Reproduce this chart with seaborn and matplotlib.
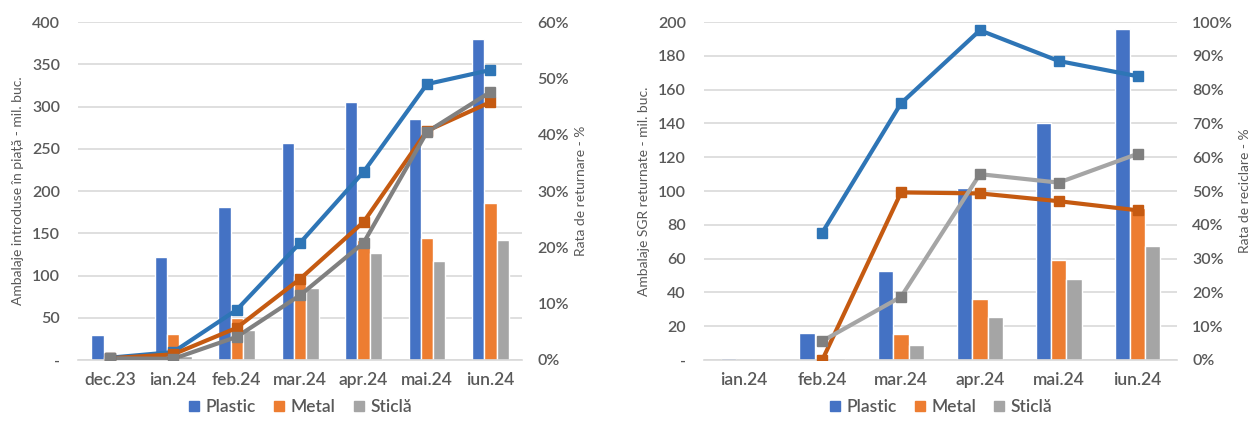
import numpy as np
import pandas as pd
import matplotlib
matplotlib.use("Agg")
import matplotlib.pyplot as plt
from matplotlib.ticker import FuncFormatter, FixedLocator, PercentFormatter
from matplotlib.lines import Line2D
import seaborn as sns

sns.set_theme(style="white")
plt.rcParams["font.family"] = ["Lato", "DejaVu Sans"]

materials = ["Plastic", "Metal", "Sticlă"]

# Packaging placed on the market (million units) and return rate
months_market = ["dec.23", "ian.24", "feb.24", "mar.24", "apr.24", "mai.24", "iun.24"]
market_plastic = [30, 122, 181, 257, 305, 285, 380]
market_metal = [3, 31, 50, 100, 142, 145, 186]
market_sticla = [1, 5, 35, 85, 127, 117, 142]
return_plastic = [0.004, 0.014, 0.089, 0.208, 0.334, 0.49, 0.515]
return_metal = [0.003, 0.010, 0.057, 0.144, 0.245, 0.407, 0.458]
return_sticla = [0.003, 0.002, 0.041, 0.115, 0.208, 0.405, 0.476]

# SGR packaging returned (million units) and recycling rate
months_sgr = ["ian.24", "feb.24", "mar.24", "apr.24", "mai.24", "iun.24"]
sgr_plastic = [1, 16, 52.5, 102, 140, 196]
sgr_metal = [0, 0.5, 15.5, 36, 59, 90]
sgr_sticla = [0, 1, 9, 25.5, 48, 67.5]
recycle_plastic = [np.nan, 0.377, 0.76, 0.976, 0.885, 0.84]
recycle_metal = [np.nan, 0.0, 0.496, 0.493, 0.47, 0.443]
recycle_sticla = [np.nan, 0.056, 0.187, 0.55, 0.525, 0.61]

bar_colors = ["#4472C4", "#ED7D31", "#A5A5A5"]
text_color = "#595959"
grid_color = "#D9D9D9"


def dash_zero(v, _):
    return "-" if abs(v) < 1e-9 else f"{v:.0f}"


def draw_panel(fig, rect, months, bars, rates, ymax, ystep, rmax,
               left_label, right_label, line_colors, marker_colors):
    ax = fig.add_axes(rect)
    df = pd.DataFrame({
        "luna": np.repeat(months, len(materials)),
        "material": materials * len(months),
        "valoare": np.column_stack(bars).ravel(),
    })
    sns.barplot(data=df, x="luna", y="valoare", hue="material", order=months,
                hue_order=materials, palette=bar_colors, width=0.58,
                saturation=1, ax=ax, legend=False, zorder=2)
    ax.set_xlim(-0.5, len(months) - 0.5)
    ax.set_ylim(0, ymax)
    ax.yaxis.set_major_locator(FixedLocator(np.arange(0, ymax + 1, ystep)))
    ax.yaxis.set_major_formatter(FuncFormatter(dash_zero))
    ax.grid(axis="y", color=grid_color, linewidth=1.2, zorder=0)
    ax.set_axisbelow(True)
    for s in ["top", "right", "left"]:
        ax.spines[s].set_visible(False)
    ax.spines["bottom"].set_color(grid_color)
    ax.spines["bottom"].set_linewidth(1.2)
    ax.set_xlabel("")
    ax.set_ylabel(left_label, fontsize=10, color=text_color, labelpad=6)
    ax.tick_params(axis="y", length=0, labelsize=11.5, labelcolor=text_color, pad=13)
    ax.tick_params(axis="x", which="major", length=0, labelsize=12.5,
                   labelcolor=text_color, pad=9)
    ax.set_xticks(np.arange(-0.5, len(months), 1.0), minor=True)
    ax.tick_params(axis="x", which="minor", length=5, color=grid_color, width=1.2)
    for lab in ax.get_xticklabels() + ax.get_yticklabels():
        lab.set_fontweight("semibold")

    ax2 = ax.twinx()
    xpos = np.arange(len(months))
    for vals, lc, mc in zip(rates, line_colors, marker_colors):
        sns.lineplot(x=xpos, y=vals, color=lc, linewidth=3, ax=ax2, zorder=3)
        ax2.plot(xpos, vals, linestyle="none", marker="s", markersize=7.5,
                 markerfacecolor=mc, markeredgecolor=mc, zorder=4)
    ax2.set_ylim(0, rmax)
    ax2.set_xlim(-0.5, len(months) - 0.5)
    ax2.yaxis.set_major_locator(FixedLocator(np.arange(0, rmax + 1e-9, 0.1)))
    ax2.yaxis.set_major_formatter(PercentFormatter(1.0, decimals=0))
    for s in ["top", "right", "left", "bottom"]:
        ax2.spines[s].set_visible(False)
    ax2.tick_params(axis="y", length=0, labelsize=11.5, labelcolor=text_color, pad=11)
    for lab in ax2.get_yticklabels():
        lab.set_fontweight("semibold")
    ax2.set_ylabel(right_label, fontsize=10, color=text_color, labelpad=4)
    ax2.grid(False)

    handles = [Line2D([], [], linestyle="none", marker="s", markersize=7,
                      markerfacecolor=c, markeredgecolor=c) for c in bar_colors]
    ax.legend(handles, materials, loc="upper center", bbox_to_anchor=(0.5, -0.095),
              ncol=3, frameon=False, handlelength=0.7, handletextpad=0.3,
              borderaxespad=0, columnspacing=1.0, labelcolor=text_color,
              prop={"weight": "semibold", "size": 12.5})
    return ax, ax2


fig = plt.figure(figsize=(12.51, 4.26), dpi=100)

draw_panel(fig, [0.0624, 0.155, 0.355, 0.793], months_market,
           [market_plastic, market_metal, market_sticla],
           [return_plastic, return_metal, return_sticla],
           400, 50, 0.6,
           "Ambalaje introduse în piață - mil. buc.", "Rata de returnare - %",
           ["#2E75B6", "#C55A11", "#808080"],
           ["#2E75B6", "#C55A11", "#7F7F7F"])

draw_panel(fig, [0.5628, 0.155, 0.378, 0.793], months_sgr,
           [sgr_plastic, sgr_metal, sgr_sticla],
           [recycle_plastic, recycle_metal, recycle_sticla],
           200, 20, 1.0,
           "Ambalaje SGR returnate - mil. buc.", "Rata de reciclare - %",
           ["#2E75B6", "#C55A11", "#A5A5A5"],
           ["#2E75B6", "#C55A11", "#7F7F7F"])

fig.savefig("out.png", dpi=100, facecolor="white")
